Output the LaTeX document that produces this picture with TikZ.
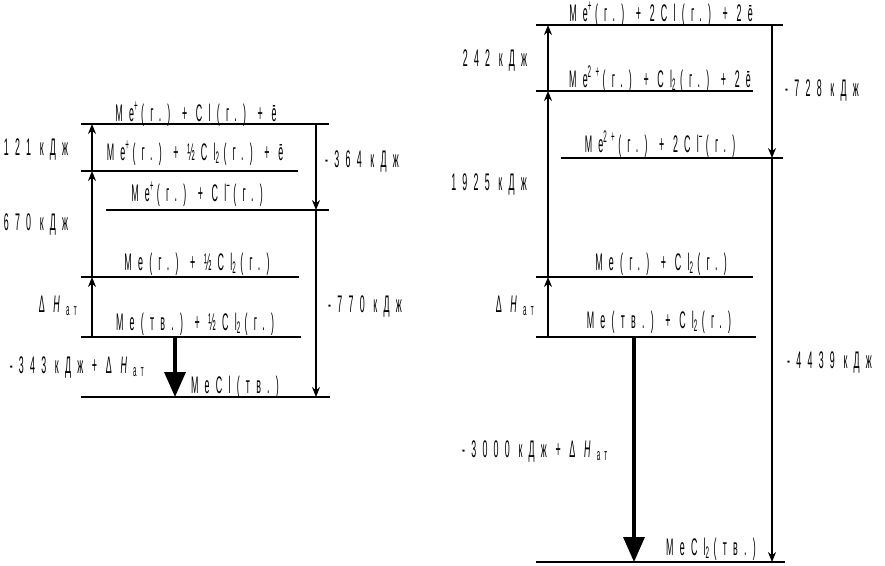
\documentclass[tikz,border=0pt]{standalone}
\usepackage{fontspec}
\setmainfont[FakeStretch=0.37,LetterSpace=26]{Liberation Sans}
\usetikzlibrary{arrows.meta}
\newcommand{\ionup}[1]{\textsuperscript{#1}\hspace{3pt}}
\newcommand{\subdn}[1]{\textsubscript{#1}\hspace{4pt}}

\begin{document}
\begin{tikzpicture}[
    x=1pt, y=-1pt,
    font=\fontsize{24}{26}\selectfont,
    level/.style={line width=1.5pt},
    jump/.style={line width=1.2pt, -{Stealth[length=10pt, width=8pt]}},
    bigjump/.style={line width=3.5pt, -{Triangle[length=25pt, width=21pt]}},
    lab/.style={inner sep=0pt, anchor=base}
  ]
  \useasboundingbox (0,0) rectangle (885,565);

  % MeCl: levels
  \draw[level] (81,124) -- (329,124);
  \draw[level] (81,171) -- (298,171);
  \draw[level] (106,210) -- (329,210);
  \draw[level] (81,277) -- (299,277);
  \draw[level] (81,337) -- (301,337);
  \draw[level] (81,397) -- (330,397);

  \node[lab] (tA1) at (196,121) {Me\ionup{+}(г.) + Cl(г.) + ē};
  \node[lab] (tA2) at (195,160) {Me\ionup{+}(г.) + ½Cl\subdn{2}(г.) + ē};
  \node[lab] (tA3) at (197,201) {Me\ionup{+}(г.) + Cl\ionup{−}(г.)};
  \node[lab] (tA4) at (197,270) {Me(г.) + ½Cl\subdn{2}(г.)};
  \node[lab] (tA5) at (195,330) {Me(тв.) + ½Cl\subdn{2}(г.)};
  \node[lab] (tA6) at (235,393) {MeCl(тв.)};

  % MeCl: arrow ends
  \coordinate (a1) at (92,124);
  \coordinate (a2) at (92,171);
  \coordinate (a4) at (92,277);
  \coordinate (a5) at (92,337);
  \coordinate (b1) at (316,124);
  \coordinate (b3) at (316,210);
  \coordinate (b6) at (316,397);
  \coordinate (c5) at (175,337);
  \coordinate (c6) at (175,397);

  \draw[jump] (a5) -- (a4);
  \draw[jump] (a4) -- (a2);
  \draw[jump] (a2) -- (a1);
  \draw[jump] (b1) -- (b3);
  \draw[jump] (b3) -- (b6);
  \draw[bigjump] (c5) -- (c6);

  \node[lab] (eA1) at (36,155) {121 кДж};
  \node[lab] (eA2) at (36,230) {670 кДж};
  \node[lab] (eA3) at (58,312) {Δ \textit{H}\subdn{ат}};
  \node[lab] (eA4) at (77,373) {-343 кДж + Δ \textit{H}\subdn{ат}};
  \node[lab, anchor=base west] (eA5) at (325,167) {-364 кДж};
  \node[lab, anchor=base west] (eA6) at (328,312) {-770 кДж};

  % MeCl2: levels
  \draw[level] (536,25) -- (783,25);
  \draw[level] (536,91) -- (753,91);
  \draw[level] (561,158) -- (783,158);
  \draw[level] (536,277) -- (753,277);
  \draw[level] (536,337) -- (756,337);
  \draw[level] (536,562) -- (785,562);

  \node[lab] (tB1) at (661,21) {Me\ionup{+}(г.) + 2Cl(г.) + 2ē};
  \node[lab] (tB2) at (660,87) {Me\ionup{2+}(г.) + Cl\subdn{2}(г.) + 2ē};
  \node[lab] (tB3) at (660,152) {Me\ionup{2+}(г.) + 2Cl\ionup{−}(г.)};
  \node[lab] (tB4) at (661,270) {Me(г.) + Cl\subdn{2}(г.)};
  \node[lab] (tB5) at (659,328) {Me(тв.) + Cl\subdn{2}(г.)};
  \node[lab] (tB6) at (711,555) {MeCl\subdn{2}(тв.)};

  % MeCl2: arrow ends
  \coordinate (p1) at (548,25);
  \coordinate (p2) at (548,91);
  \coordinate (p4) at (548,277);
  \coordinate (p5) at (548,337);
  \coordinate (q1) at (772,25);
  \coordinate (q3) at (772,158);
  \coordinate (q6) at (772,562);
  \coordinate (r5) at (634,337);
  \coordinate (r6) at (634,562);

  \draw[jump] (p5) -- (p4);
  \draw[jump] (p4) -- (p2);
  \draw[jump] (p2) -- (p1);
  \draw[jump] (q1) -- (q3);
  \draw[jump] (q3) -- (q6);
  \draw[bigjump] (r5) -- (r6);

  \node[lab] (eB1) at (495,66) {242 кДж};
  \node[lab] (eB2) at (489,190) {1925 кДж};
  \node[lab] (eB3) at (515,312) {Δ \textit{H}\subdn{ат}};
  \node[lab] (eB4) at (535,457) {-3000 кДж + Δ \textit{H}\subdn{ат}};
  \node[lab, anchor=base west] (eB5) at (785,96) {-728 кДж};
  \node[lab, anchor=base west] (eB6) at (787,368) {-4439 кДж};
\end{tikzpicture}
\end{document}
